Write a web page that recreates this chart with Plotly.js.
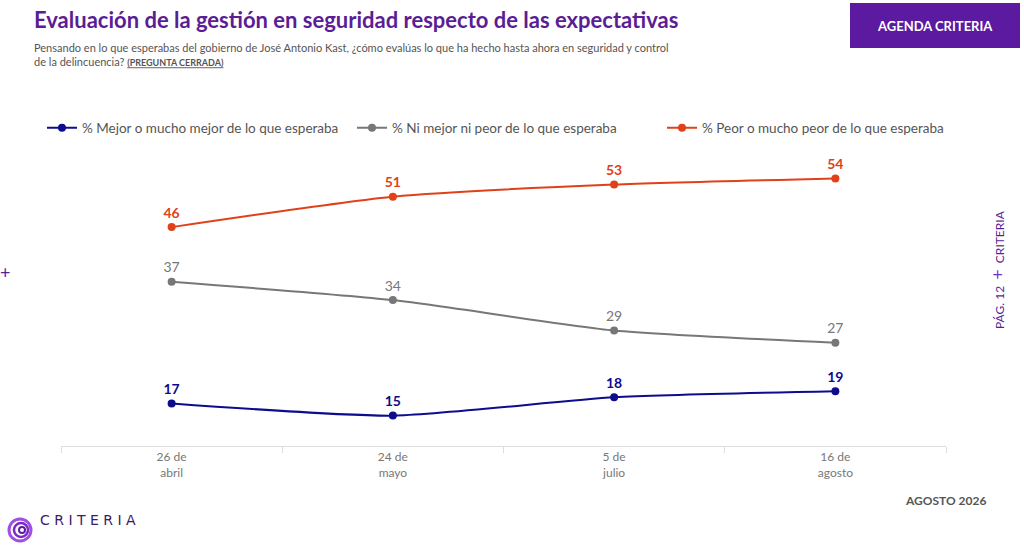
<!DOCTYPE html>
<html><head><meta charset="utf-8">
<script src="https://cdn.plot.ly/plotly-3.0.1.min.js"></script>
<style>body{margin:0;background:#fff;}#c{width:1024px;height:549px;}</style>
</head><body><div id="c"></div>
<script>
var categories = ["26 de<br>abril","24 de<br>mayo","5 de<br>julio","16 de<br>agosto"];
var mejor = [17,15,18,19];
var ni = [37,34,29,27];
var peor = [46,51,53,54];
var names = ["% Mejor o mucho mejor de lo que esperaba","% Ni mejor ni peor de lo que esperaba","% Peor o mucho peor de lo que esperaba"];
var colors = ["#0c0c8c","#777777","#e0401a"];
var series = [mejor, ni, peor];
var traces = series.map(function(v,i){
  return {x:categories,y:v,name:names[i],type:"scatter",mode:"lines+markers+text",
    line:{color:colors[i],width:2,shape:"spline",smoothing:0.6},marker:{color:colors[i],size:8},
    text:v.map(String),textposition:"top center",
    textfont:{color:colors[i],size:14,family:"Lato",weight:i===1?"normal":"bold"},cliponaxis:false};
});
var font="Lato, 'Open Sans', sans-serif";
function PX(px){return (px-61)/885;} function PY(py){return (446-py)/304;}
var layout={width:1024,height:549,margin:{l:61,r:78,t:142,b:103},paper_bgcolor:"#fff",plot_bgcolor:"#fff",
  font:{family:font,color:"#666"},
  showlegend:true,legend:{orientation:"h",x:PX(42),y:PY(128),xref:"paper",xanchor:"left",yanchor:"middle",font:{size:13.5,color:"#555"},itemwidth:30,entrywidth:265,traceorder:"normal"},
  xaxis:{type:"category",range:[-0.5,3.5],showgrid:false,showline:true,linecolor:"#ddd",ticks:"outside",ticklen:6,tickcolor:"#ddd",tickson:"boundaries",tickfont:{size:12,color:"#777"}},
  yaxis:{range:[10,60],visible:false},
  shapes:[{type:"rect",layer:"below",xref:"paper",yref:"paper",x0:PX(850),x1:PX(1020),y0:PY(48),y1:PY(3),fillcolor:"#5b1aa0",line:{width:0}},
    {type:"circle",xref:"paper",yref:"paper",xsizemode:"pixel",ysizemode:"pixel",xanchor:PX(20),yanchor:PY(530),x0:-11,x1:11,y0:-11,y1:11,line:{color:"#a050e0",width:3}},
    {type:"circle",xref:"paper",yref:"paper",xsizemode:"pixel",ysizemode:"pixel",xanchor:PX(21),yanchor:PY(530),x0:-7,x1:7,y0:-7,y1:7,line:{color:"#7a2ac8",width:2.5}},
    {type:"circle",xref:"paper",yref:"paper",xsizemode:"pixel",ysizemode:"pixel",xanchor:PX(22),yanchor:PY(530),x0:-3,x1:3,y0:-3,y1:3,line:{color:"#5b1aa0",width:2}}],
  annotations:[
    {text:"<b>Evaluación de la gestión en seguridad respecto de las expectativas</b>",xref:"paper",yref:"paper",x:PX(32),y:PY(19),xanchor:"left",yanchor:"middle",showarrow:false,font:{size:22,color:"#5b1d95"}},
    {text:"Pensando en lo que esperabas del gobierno de José Antonio Kast, ¿cómo evalúas lo que ha hecho hasta ahora en seguridad y control<br>de la delincuencia? <u><b style='font-size:9px'>(PREGUNTA CERRADA)</b></u>",xref:"paper",yref:"paper",x:PX(32),y:PY(54),xanchor:"left",yanchor:"middle",align:"left",showarrow:false,font:{size:11,color:"#555"}},
    {text:"<b>AGENDA CRITERIA</b>",xref:"paper",yref:"paper",x:PX(935),y:PY(26),xanchor:"center",yanchor:"middle",showarrow:false,font:{size:13,color:"#fff"}},
    {text:"<b>AGOSTO 2026</b>",xref:"paper",yref:"paper",x:PX(988),y:PY(510),xanchor:"right",showarrow:false,font:{size:12,color:"#555"}},
    {text:"C R I T E R I A",xref:"paper",yref:"paper",x:PX(38),y:PY(530),xanchor:"left",showarrow:false,font:{size:14,color:"#3a1a6a",family:"DejaVu Sans"}},
    {text:"PÁG. 12  <span style='color:#7a2ac8;font-size:18px'>+</span>  CRITERIA",xref:"paper",yref:"paper",x:PX(1010),y:PY(270),textangle:-90,showarrow:false,font:{size:12,color:"#5b1d95"}},
    {text:"+",xref:"paper",yref:"paper",x:PX(-2),y:PY(272),showarrow:false,font:{size:18,color:"#5b1d95"}}
  ]};
Plotly.newPlot("c",traces,layout,{displayModeBar:false});
</script></body></html>
